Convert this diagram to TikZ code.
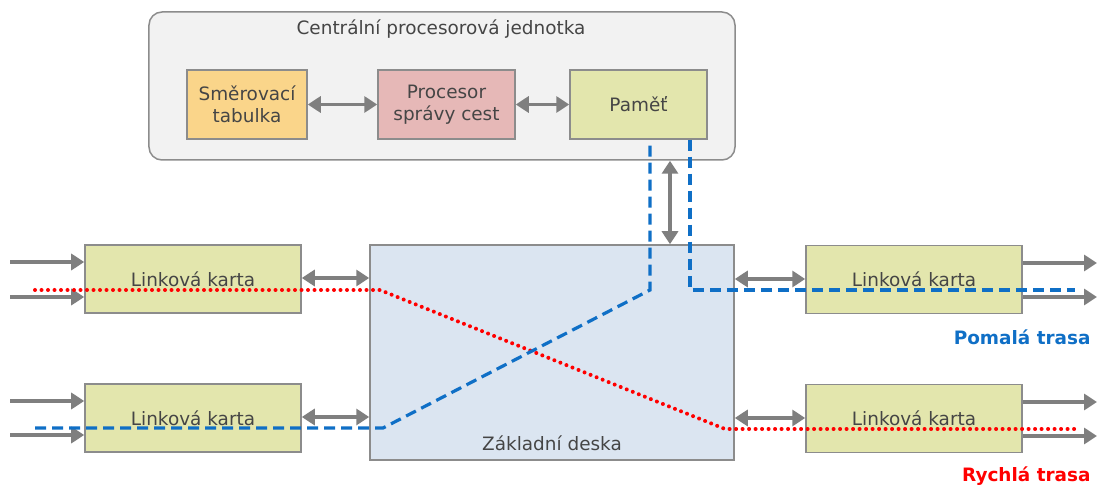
\documentclass[tikz,border=0pt]{standalone}
\usepackage{fontspec}
\setmainfont{DejaVu Sans}
\usetikzlibrary{arrows.meta}
\definecolor{txt}{HTML}{454545}
\definecolor{bordergray}{HTML}{8C8C8C}
\definecolor{arrgray}{HTML}{7F7F7F}
\definecolor{cpufill}{HTML}{F2F2F2}
\definecolor{tabfill}{HTML}{FAD58A}
\definecolor{procfill}{HTML}{E6B8B7}
\definecolor{cardfill}{HTML}{E3E6AD}
\definecolor{boardfill}{HTML}{DBE5F1}
\definecolor{slowblue}{HTML}{0F6FC6}
\definecolor{fastred}{HTML}{FF0000}
\tikzset{
  lbl/.style={text=txt, font=\fontsize{18.5}{22}\selectfont},
  box/.style={draw=bordergray, line width=1.5bp, lbl, align=center, inner sep=0pt},
  card/.style={box, fill=cardfill, minimum width=216bp, minimum height=68bp},
  garrow/.style={draw=arrgray, line width=3.5bp, -{Triangle[length=13bp,width=16bp]}},
  gdarrow/.style={draw=arrgray, line width=3.5bp, {Triangle[length=13bp,width=16bp]}-{Triangle[length=13bp,width=16bp]}},
  slowpath/.style={draw=slowblue, line width=3.2bp, dash pattern=on 11bp off 6bp},
  fastpath/.style={draw=fastred, line width=4bp, line cap=round, dash pattern=on 0bp off 6.5bp},
}
\begin{document}
\begin{tikzpicture}[x=1bp,y=-1bp]
\useasboundingbox (0,0) rectangle (1097,486);
% CPU
\node[draw=bordergray, line width=1.5bp, fill=cpufill, rounded corners=13bp, minimum width=586bp, minimum height=148bp, inner sep=0pt] (cpu) at (442,86) {};
\node[lbl] (cputitle) at (441,29) {Centrální procesorová jednotka};
\node[box, fill=tabfill, minimum width=120bp, minimum height=69bp] (tab) at (247,104.5) {Směrovací\\tabulka};
\node[box, fill=procfill, minimum width=137bp, minimum height=69bp] (proc) at (446.5,104.5) {Procesor\\správy cest};
\node[box, fill=cardfill, minimum width=137bp, minimum height=69bp] (mem) at (638.5,104.5) {Paměť};
% board
\node[box, fill=boardfill, minimum width=364bp, minimum height=215bp] (board) at (552,352.5) {};
\node[lbl] (boardlbl) at (552,443) {Základní deska};
% cards
\node[card] (c1) at (193,279) {Linková karta};
\node[card] (c2) at (193,418) {Linková karta};
\node[card] (c3) at (914,279.5) {Linková karta};
\node[card] (c4) at (914,418.5) {Linková karta};
% internal arrows
\draw[gdarrow] (tab.east) -- (proc.west);
\draw[gdarrow] (proc.east) -- (mem.west);
\draw[gdarrow] (cpu.south -| 670,0) -- (board.north -| 670,0);
\draw[gdarrow] (c1.east |- 0,278) -- (board.west |- 0,278);
\draw[gdarrow] (c2.east |- 0,417) -- (board.west |- 0,417);
\draw[gdarrow] (board.east |- 0,279) -- (c3.west |- 0,279);
\draw[gdarrow] (board.east |- 0,418) -- (c4.west |- 0,418);
% inputs / outputs
\coordinate (in1) at (10,262); \coordinate (in2) at (10,297);
\coordinate (in3) at (10,401); \coordinate (in4) at (10,435);
\coordinate (out1) at (1097,263); \coordinate (out2) at (1097,297);
\coordinate (out3) at (1097,402); \coordinate (out4) at (1097,436);
\draw[garrow] (in1) -- (c1.west |- in1);
\draw[garrow] (in2) -- (c1.west |- in2);
\draw[garrow] (in3) -- (c2.west |- in3);
\draw[garrow] (in4) -- (c2.west |- in4);
\draw[garrow] (c3.east |- out1) -- (out1);
\draw[garrow] (c3.east |- out2) -- (out2);
\draw[garrow] (c4.east |- out3) -- (out3);
\draw[garrow] (c4.east |- out4) -- (out4);
% paths
\coordinate (r0) at (35,290); \coordinate (r1) at (380,290);
\coordinate (r2) at (725,429); \coordinate (r3) at (1075,429);
\draw[fastpath] (r0) -- (r1) -- (r2) -- (r3);
\coordinate (b0) at (35,428); \coordinate (b1) at (383,428);
\coordinate (b2) at (650,290);
\draw[slowpath] (b0) -- (b1) -- (b2) -- (mem.south -| b2);
\coordinate (b3) at (690,290); \coordinate (b4) at (1075,290);
\draw[slowpath] (mem.south -| b3) -- (b3) -- (b4);
% legends
\node[anchor=east, text=slowblue, font=\bfseries\fontsize{18.5}{22}\selectfont] (slow) at (1094,337) {Pomalá trasa};
\node[anchor=east, text=fastred, font=\bfseries\fontsize{18.5}{22}\selectfont] (fast) at (1094,476) {Rychlá trasa};
\end{tikzpicture}
\end{document}
